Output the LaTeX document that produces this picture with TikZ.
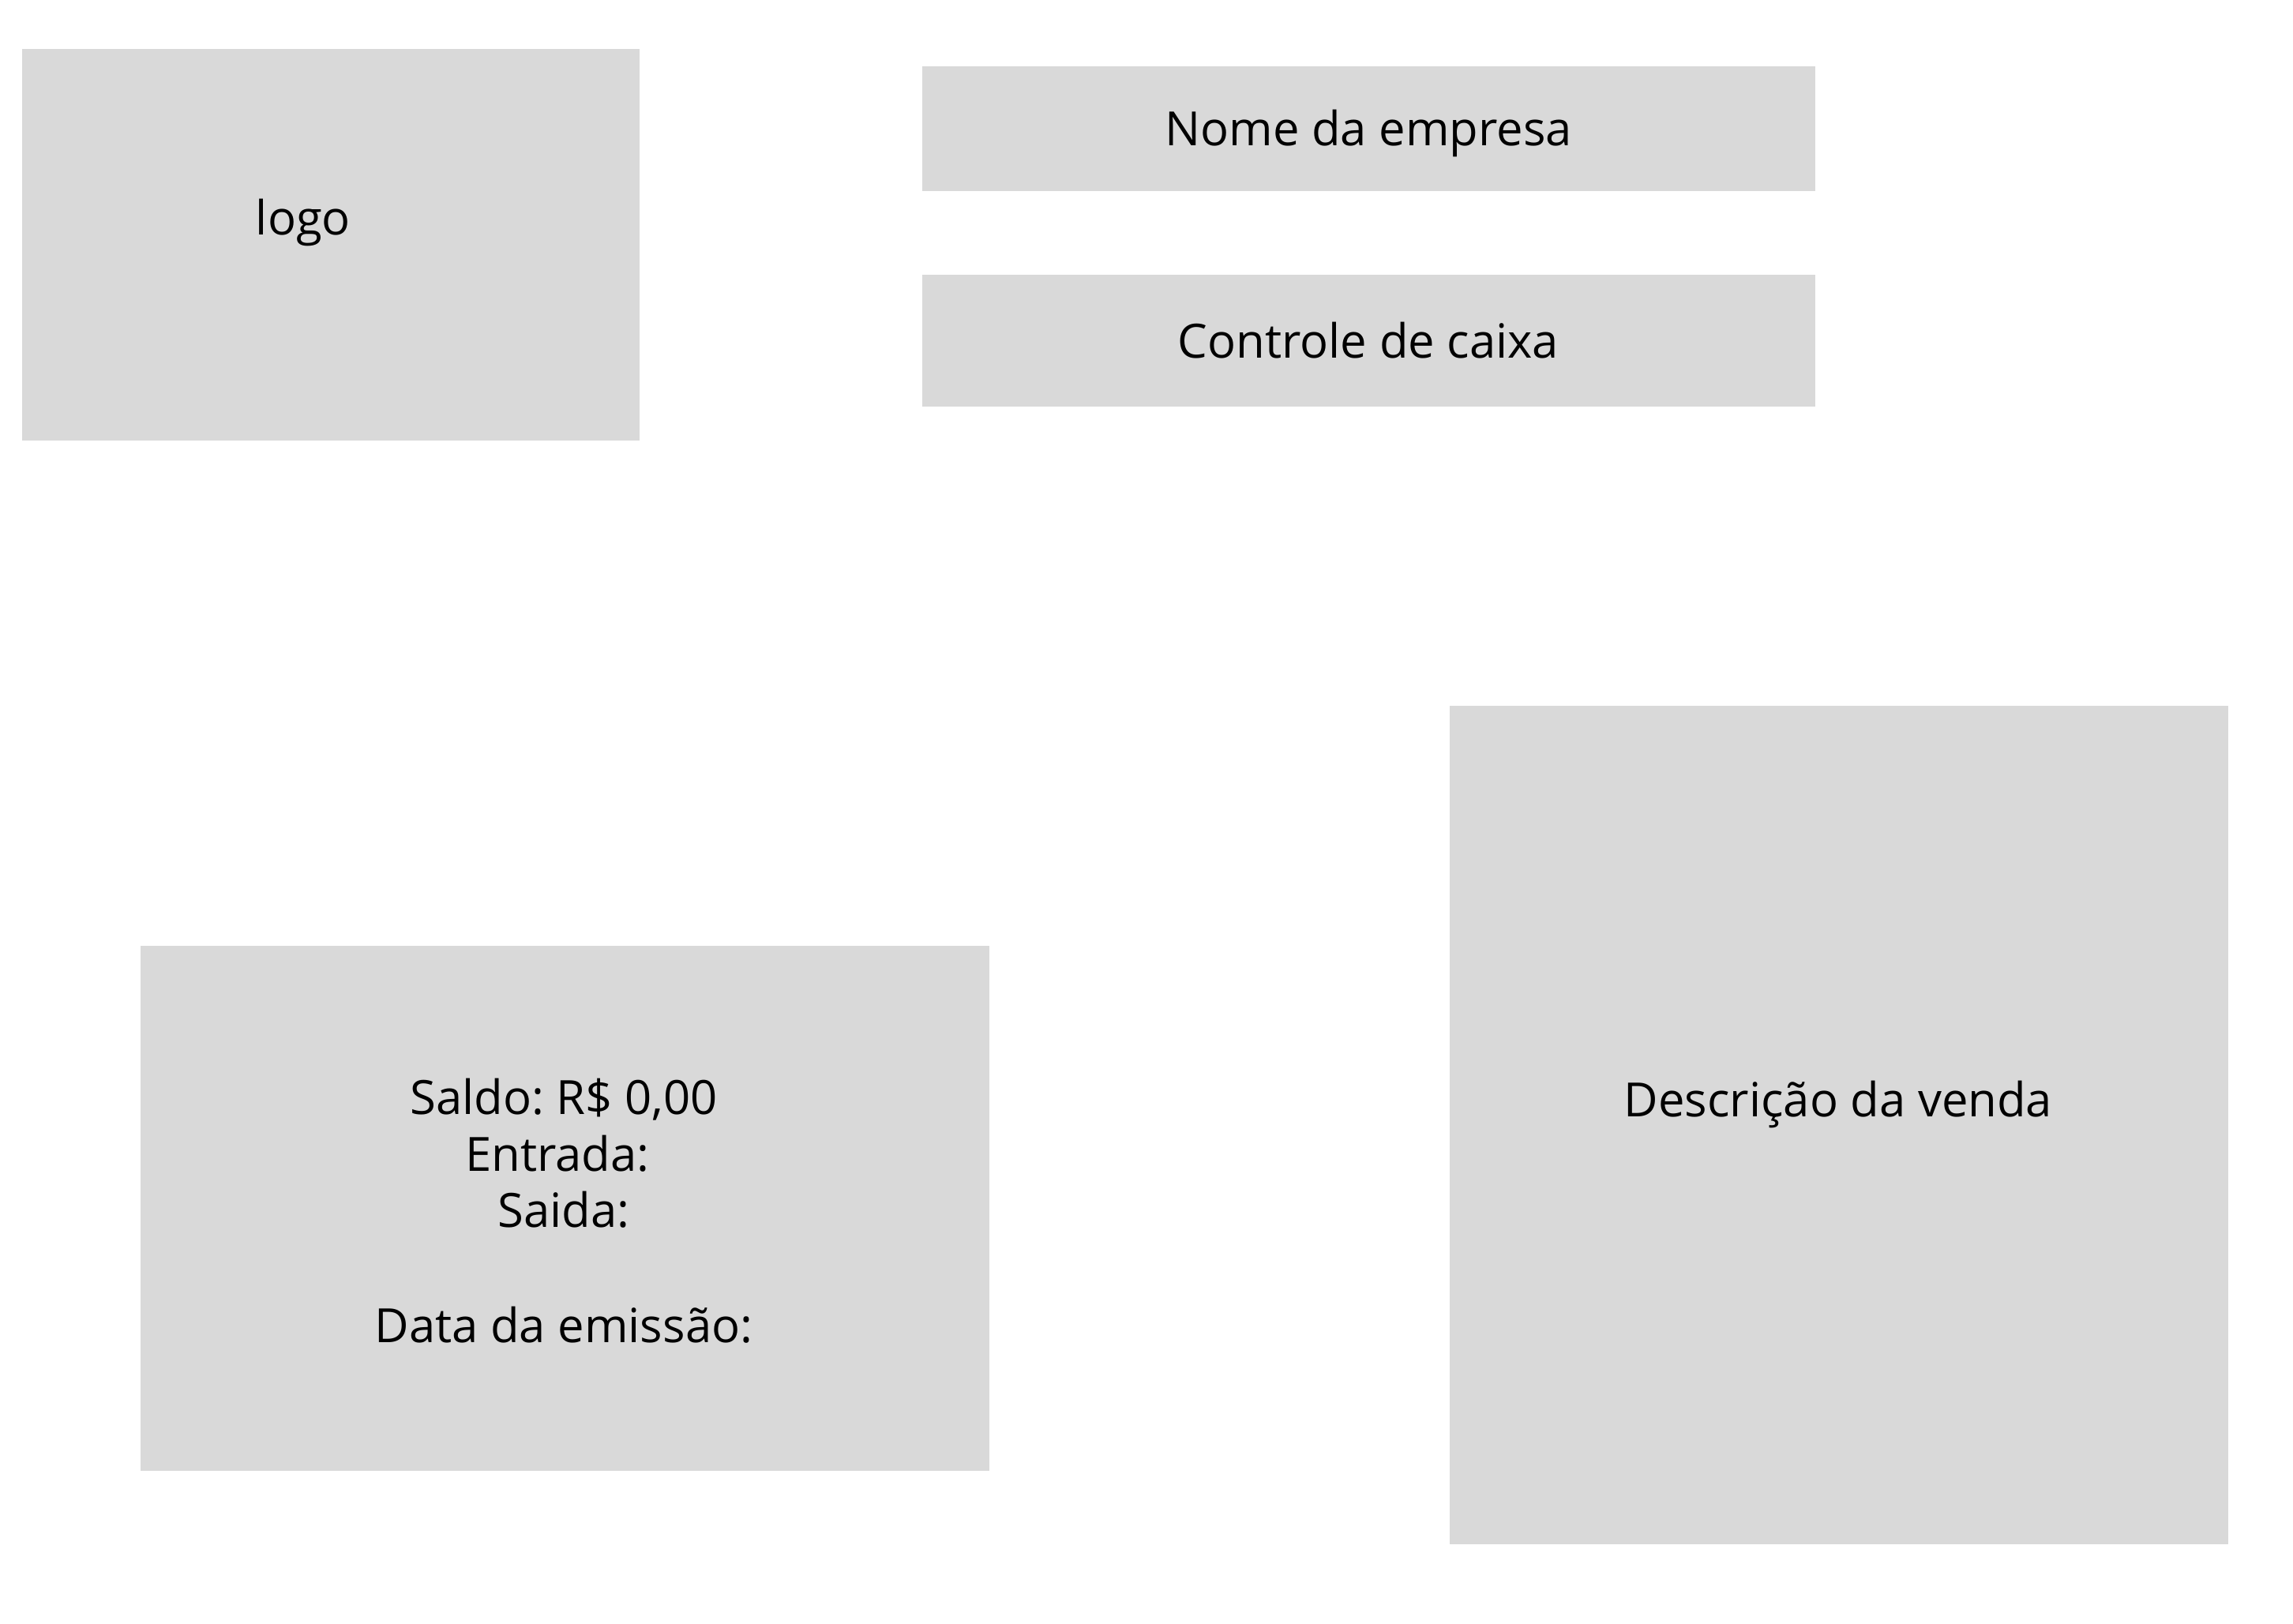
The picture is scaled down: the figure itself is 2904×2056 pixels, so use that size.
\documentclass[tikz,border=0pt]{standalone}
\usepackage{fontspec}
\setmainfont{Open Sans}
\definecolor{boxgray}{HTML}{D9D9D9}
\begin{document}
\frenchspacing
\begin{tikzpicture}[x=0.01cm,y=-0.01cm,
  panel/.style={draw=none,fill=boxgray,rectangle,inner sep=0pt,outer sep=0pt},
  lbl/.style={anchor=base,inner sep=0pt,font=\fontsize{17}{20.5}\selectfont,text=black}]
\useasboundingbox[fill=white] (0,0) rectangle (2904,2056);
\node[panel,minimum width=7.82cm,minimum height=4.96cm] (logo) at (419,310) {};
\node[panel,minimum width=11.31cm,minimum height=1.58cm] (nome) at (1733.5,163) {};
\node[panel,minimum width=11.31cm,minimum height=1.67cm] (controle) at (1733.5,431.5) {};
\node[panel,minimum width=10.75cm,minimum height=6.65cm] (saldo) at (715.5,1530.5) {};
\node[panel,minimum width=9.86cm,minimum height=10.62cm] (desc) at (2329,1425) {};
\node[lbl] (logoT) at (384,297) {logo};
\node[lbl] (nomeT) at (1733,184) {Nome da empresa};
\node[lbl] (controleT) at (1733,453) {Controle de caixa};
\node[lbl] (saldoT1) at (714,1411) {Saldo: R\$ 0,00};
\node[lbl] (saldoT2) at (706,1483) {Entrada:};
\node[lbl] (saldoT3) at (714,1554) {Saida:};
\node[lbl] (saldoT4) at (714,1700) {Data da emissão:};
\node[lbl] (descT) at (2328,1414) {Descrição da venda};
\end{tikzpicture}
\end{document}
